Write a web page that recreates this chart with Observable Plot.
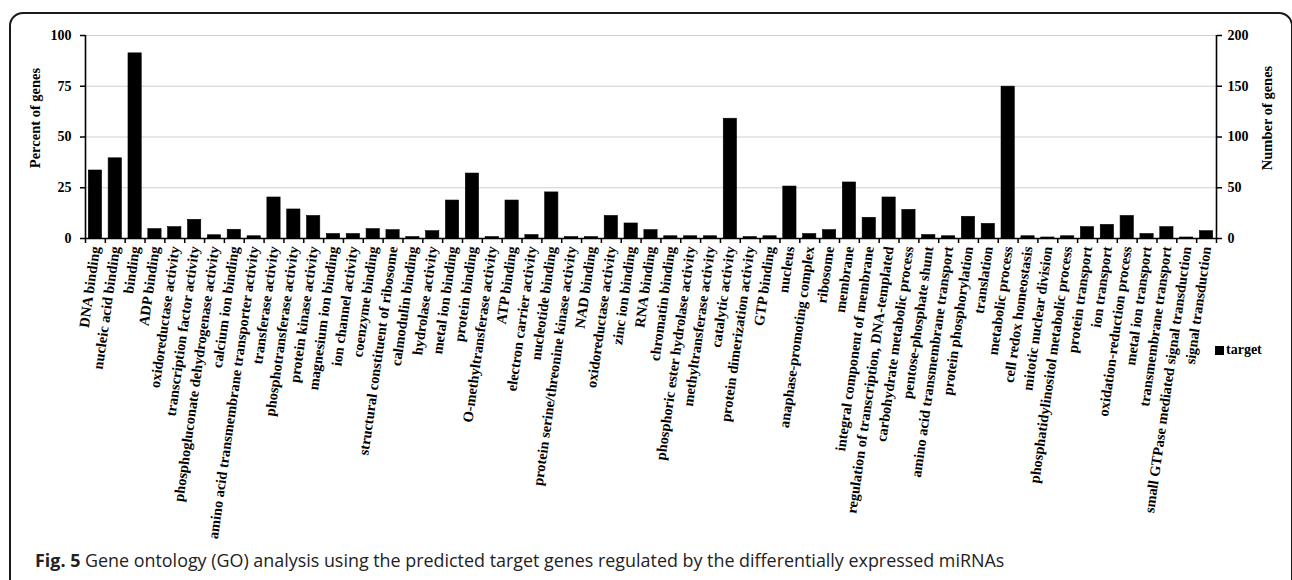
<!DOCTYPE html>
<html>
<head>
<meta charset="utf-8">
<script src="https://cdn.jsdelivr.net/npm/d3@7"></script>
<script src="https://cdn.jsdelivr.net/npm/@observablehq/plot@0.6"></script>
<style>
  html, body { margin: 0; padding: 0; background: #fff; }
  body { width: 1292px; height: 580px; overflow: hidden; position: relative; }
  #frame { position: absolute; left: 9px; top: 12px; width: 1280px; height: 640px;
           border: 2px solid #1a1a1a; border-radius: 14px; box-sizing: content-box; }
  #chart { position: absolute; left: 0; top: 0; }
  #chart svg text { font-family: "Liberation Serif", "Times New Roman", serif; font-weight: bold; }
  #legend { position: absolute; left: 1215px; top: 342px; font-family: "Liberation Serif", serif;
            font-weight: bold; font-size: 14px; color: #000; display: flex; align-items: center; }
  #legend span.sw { display: inline-block; width: 9px; height: 9px; background: #000; margin-right: 2px; }
  #caption { position: absolute; left: 35px; top: 548px; font-family: "Open Sans", sans-serif;
             font-size: 17.9px; color: #222; white-space: nowrap; }
  #caption b { font-weight: bold; }
</style>
</head>
<body>
<div id="frame"></div>
<div id="chart"></div>
<div id="legend"><span class="sw"></span>target</div>
<div id="caption"><b>Fig. 5</b> Gene ontology (GO) analysis using the predicted target genes regulated by the differentially expressed miRNAs</div>
<script>
const categories = [
  "DNA binding", "nucleic acid binding", "binding", "ADP binding", "oxidoreductase activity",
  "transcription factor activity", "phosphogluconate dehydrogenase activity", "calcium ion binding",
  "amino acid transmembrane transporter activity", "transferase activity", "phosphotransferase activity",
  "protein kinase activity", "magnesium ion binding", "ion channel activity", "coenzyme binding",
  "structural constituent of ribosome", "calmodulin binding", "hydrolase activity", "metal ion binding",
  "protein binding", "O-methyltransferase activity", "ATP binding", "electron carrier activity",
  "nucleotide binding", "protein serine/threonine kinase activity", "NAD binding", "oxidoreductase activity",
  "zinc ion binding", "RNA binding", "chromatin binding", "phosphoric ester hydrolase activity",
  "methyltransferase activity", "catalytic activity", "protein dimerization activity", "GTP binding",
  "nucleus", "anaphase-promoting complex", "ribosome", "membrane", "integral component of membrane",
  "regulation of transcription, DNA-templated", "carbohydrate metabolic process", "pentose-phosphate shunt",
  "amino acid transmembrane transport", "protein phosphorylation", "translation", "metabolic process",
  "cell redox homeostasis", "mitotic nuclear division", "phosphatidylinositol metabolic process",
  "protein transport", "ion transport", "oxidation-reduction process", "metal ion transport",
  "transmembrane transport", "small GTPase mediated signal transduction", "signal transduction"
];
const percentValues = [
  33.5, 39.5, 91.2, 4.6, 5.6, 9.2, 1.6, 4.3, 1.1, 20.2, 14.3, 11.1, 2.2, 2.2, 4.6,
  4.1, 0.7, 3.6, 18.7, 32.0, 0.7, 18.7, 1.7, 22.7, 0.7, 0.7, 11.1,
  7.4, 4.1, 1.1, 1.1, 1.1, 59.0, 0.7, 1.1,
  25.6, 2.2, 4.1, 27.6, 10.2, 20.2, 14.1, 1.7,
  1.1, 10.7, 7.2, 74.8, 1.1, 0.5, 1.1,
  5.6, 6.7, 11.1, 2.2, 5.6, 0.5, 3.6
];
const leftTicks = [0, 25, 50, 75, 100];
const rightTickFactor = 2; // Number of genes axis: 0–200

const data = categories.map((c, i) => ({index: i, category: c, value: percentValues[i]}));
const boundaries = d3.range(0, categories.length + 1);
const centers = categories.map((_, i) => i + 0.5);

const chart = Plot.plot({
  width: 1292,
  height: 550,
  marginLeft: 85,
  marginRight: 76,
  marginTop: 35,
  marginBottom: 312,
  style: {fontFamily: '"Liberation Serif", serif', fontWeight: "bold", fontSize: "13px", color: "#000", background: "transparent"},
  x: {domain: [0, categories.length], label: null},
  y: {domain: [0, 100], label: null},
  marks: [
    Plot.gridY(leftTicks.slice(1), {stroke: "#cfcfcf", strokeOpacity: 1, strokeWidth: 1.2}),
    Plot.rectY(data, {x1: "index", x2: d => d.index + 1, y: "value", insetLeft: 3.3, insetRight: 3.3, fill: "#000", stroke: "#000", strokeWidth: 0.6}),
    Plot.ruleX([0, categories.length], {stroke: "#000", strokeWidth: 1.6}),
    Plot.ruleY([0], {stroke: "#000", strokeWidth: 1.6}),
    Plot.axisY({anchor: "left", ticks: leftTicks, tickSize: 5, tickPadding: 9, stroke: "#000", strokeWidth: 1.5, label: null, fontSize: 14}),
    Plot.axisY({anchor: "right", ticks: leftTicks, tickFormat: d => d * rightTickFactor, tickSize: 5, tickPadding: 6, stroke: "#000", strokeWidth: 1.5, label: null, fontSize: 14}),
    Plot.axisX({ticks: boundaries, tickFormat: () => "", tickSize: 5, stroke: "#000", strokeWidth: 1.5, label: null}),
    Plot.axisX({ticks: centers, tickFormat: d => categories[Math.floor(d)], tickSize: 0, tickPadding: 8, tickRotate: -82, label: null, fontSize: 14.5}),
    Plot.text(["Percent of genes"], {frameAnchor: "left", dx: -50, dy: -19, rotate: -90, textAnchor: "middle", fontSize: 14.5, fontWeight: "bold", fill: "#000"}),
    Plot.text(["Number of genes"], {frameAnchor: "right", dx: 51, dy: -19, rotate: -90, textAnchor: "middle", fontSize: 14.5, fontWeight: "bold", fill: "#000"})
  ]
});
document.getElementById("chart").appendChild(chart);
</script>
</body>
</html>
